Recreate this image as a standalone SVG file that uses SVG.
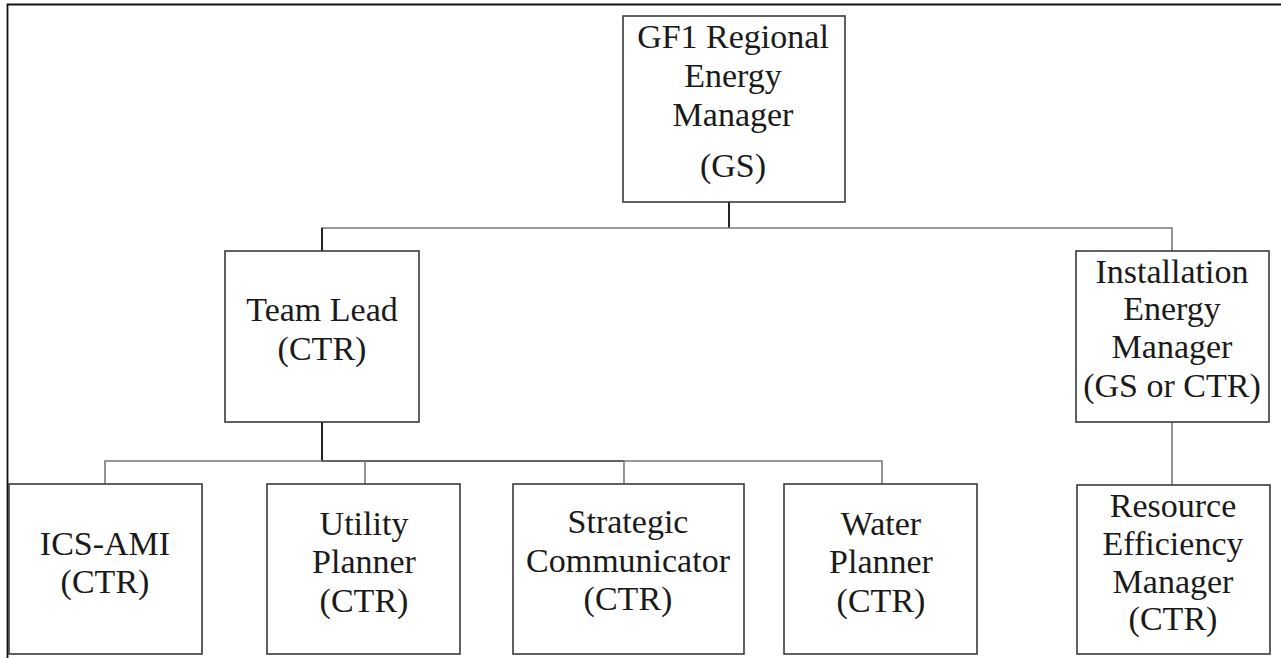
<svg xmlns="http://www.w3.org/2000/svg" width="1281" height="658" viewBox="0 0 1281 658">
  <style>
    .box { fill: #ffffff; stroke: #3a3a3a; stroke-width: 1.6; }
    .lbl { font-family: "Liberation Serif", "Times New Roman", serif; font-size: 34px; fill: #1a1a1a; text-anchor: middle; }
    .wire { fill: none; stroke: #7a7a7a; stroke-width: 1.6; }
    .wire-dark { fill: none; stroke: #222222; stroke-width: 2; }
    .frame { fill: none; stroke: #111111; stroke-width: 1.8; }
  </style>
  <rect width="1281" height="658" fill="#ffffff"/>

  <!-- page frame -->
  <path class="frame" d="M7.5,658 V4.5 H1281"/>

  <!-- connectors -->
  <g id="connectors">
    <path class="wire-dark" d="M729,202 V228"/>
    <path class="wire" d="M322,251 V228 H1172 V251"/>
    <path class="wire-dark" d="M322,228 V251"/>
    <path class="wire-dark" d="M322,422 V461 H624"/>
    <path class="wire" d="M105,484 V461 H882 V484"/>
    <path class="wire" d="M365,461 V484"/>
    <path class="wire" d="M624,461 V484"/>
    <path class="wire" d="M1172,422 V485"/>
  </g>

  <g id="regional-energy-manager">
    <rect class="box" x="623" y="16" width="222" height="186"/>
    <text class="lbl" x="733" y="48">GF1 Regional</text>
    <text class="lbl" x="733" y="87">Energy</text>
    <text class="lbl" x="733" y="126">Manager</text>
    <text class="lbl" x="733" y="177">(GS)</text>
  </g>

  <g id="team-lead">
    <rect class="box" x="225" y="251" width="194" height="171"/>
    <text class="lbl" x="322" y="321">Team Lead</text>
    <text class="lbl" x="322" y="360">(CTR)</text>
  </g>

  <g id="installation-energy-manager">
    <rect class="box" x="1076" y="251" width="193" height="171"/>
    <text class="lbl" x="1172" y="283">Installation</text>
    <text class="lbl" x="1172" y="320">Energy</text>
    <text class="lbl" x="1172" y="358">Manager</text>
    <text class="lbl" x="1172" y="397">(GS or CTR)</text>
  </g>

  <g id="ics-ami">
    <rect class="box" x="9" y="484" width="193" height="170"/>
    <text class="lbl" x="105" y="555">ICS-AMI</text>
    <text class="lbl" x="105" y="593">(CTR)</text>
  </g>

  <g id="utility-planner">
    <rect class="box" x="267" y="484" width="193" height="170"/>
    <text class="lbl" x="364" y="535">Utility</text>
    <text class="lbl" x="364" y="573">Planner</text>
    <text class="lbl" x="364" y="612">(CTR)</text>
  </g>

  <g id="strategic-communicator">
    <rect class="box" x="513" y="484" width="231" height="170"/>
    <text class="lbl" x="628" y="533">Strategic</text>
    <text class="lbl" x="628" y="572">Communicator</text>
    <text class="lbl" x="628" y="610">(CTR)</text>
  </g>

  <g id="water-planner">
    <rect class="box" x="784" y="484" width="193" height="170"/>
    <text class="lbl" x="881" y="535">Water</text>
    <text class="lbl" x="881" y="573">Planner</text>
    <text class="lbl" x="881" y="612">(CTR)</text>
  </g>

  <g id="resource-efficiency-manager">
    <rect class="box" x="1077" y="485" width="193" height="169"/>
    <text class="lbl" x="1173" y="517">Resource</text>
    <text class="lbl" x="1173" y="555">Efficiency</text>
    <text class="lbl" x="1173" y="593">Manager</text>
    <text class="lbl" x="1173" y="630">(CTR)</text>
  </g>
</svg>
